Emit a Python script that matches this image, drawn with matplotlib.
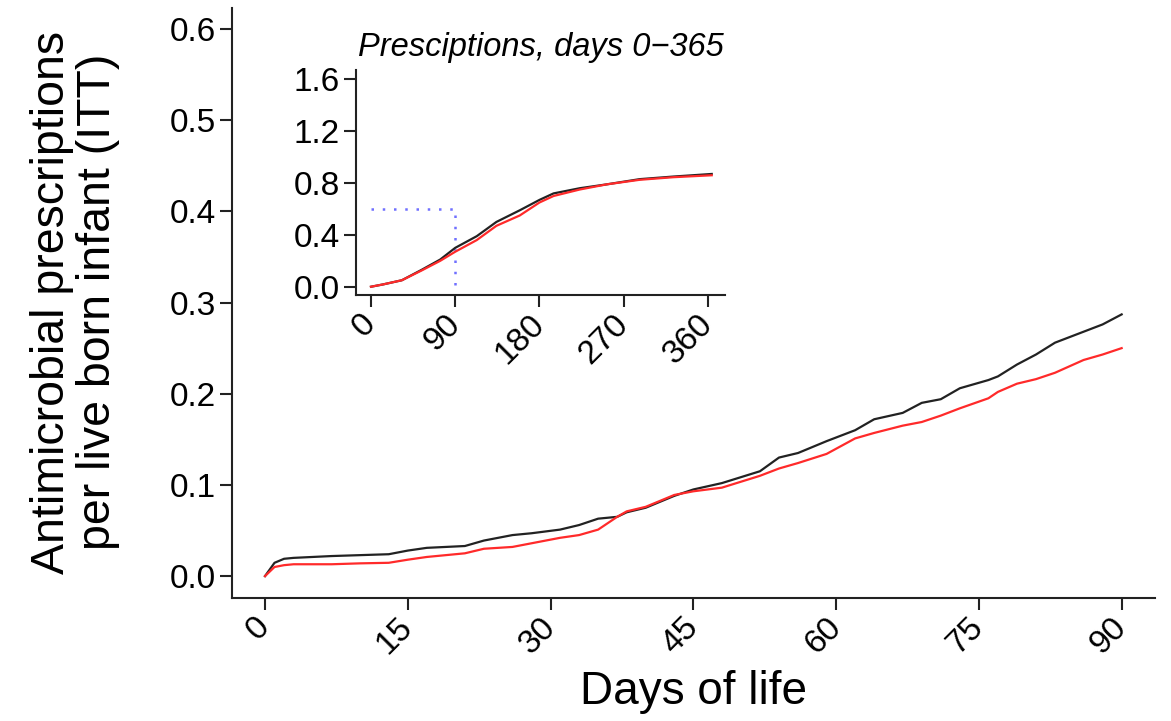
import matplotlib
matplotlib.use("Agg")
import matplotlib.pyplot as plt

plt.rcParams['font.family'] = ['Liberation Sans', 'DejaVu Sans']

# main panel, days 0-90
days = [0, 1, 2, 3, 5, 7, 10, 13, 15, 17, 19, 21, 23, 26, 28, 31, 33, 35, 37, 38,
        40, 43, 45, 48, 52, 54, 56, 59, 62, 64, 67, 69, 71, 73, 76, 77, 79, 81, 83,
        86, 88, 90]
black = [0.0, 0.0146, 0.019, 0.020, 0.021, 0.022, 0.023, 0.024, 0.028, 0.031,
         0.032, 0.033, 0.039, 0.045, 0.047, 0.051, 0.056, 0.063, 0.065, 0.070,
         0.075, 0.088, 0.095, 0.102, 0.115, 0.130, 0.135, 0.148, 0.160, 0.172,
         0.179, 0.190, 0.194, 0.206, 0.215, 0.219, 0.232, 0.243, 0.256, 0.268,
         0.276, 0.287]
red = [0.0, 0.010, 0.012, 0.013, 0.013, 0.013, 0.014, 0.0146, 0.018, 0.021,
       0.023, 0.025, 0.030, 0.032, 0.036, 0.042, 0.045, 0.051, 0.065, 0.071,
       0.076, 0.089, 0.093, 0.097, 0.110, 0.118, 0.124, 0.134, 0.151, 0.157,
       0.165, 0.169, 0.176, 0.184, 0.195, 0.202, 0.211, 0.216, 0.223, 0.237,
       0.243, 0.250]

# inset, days 0-365
days_in = [0, 13, 33, 54, 74, 90, 113, 134, 159, 180, 195, 223, 252, 287, 323, 364]
black_in = [0.0, 0.018, 0.05, 0.13, 0.21, 0.30, 0.39, 0.50, 0.59, 0.67, 0.72,
            0.76, 0.79, 0.83, 0.85, 0.87]
red_in = [0.0, 0.018, 0.05, 0.125, 0.20, 0.27, 0.36, 0.47, 0.55, 0.65, 0.70,
          0.75, 0.79, 0.825, 0.845, 0.86]

main_xticks = [0, 15, 30, 45, 60, 75, 90]
main_yticks = [0.0, 0.1, 0.2, 0.3, 0.4, 0.5, 0.6]
in_xticks = [0, 90, 180, 270, 360]
in_yticks = [0.0, 0.4, 0.8, 1.2, 1.6]
box_x, box_y = 90, 0.6


def style(ax, xticks, yticks, yfmt):
    for s in ['top', 'right']:
        ax.spines[s].set_visible(False)
    for s in ['left', 'bottom']:
        ax.spines[s].set_linewidth(1.5)
        ax.spines[s].set_color('#222222')
    ax.tick_params(width=1.5, length=8.5, labelsize=24, color='#222222', pad=3)
    ax.tick_params(axis='x', pad=9)
    ax.set_xticks(xticks)
    ax.set_yticks(yticks)
    ax.set_yticklabels([yfmt % v for v in yticks])
    ax.set_xticklabels([str(v) for v in xticks], rotation=45, ha='right',
                       va='center', rotation_mode='anchor')


fig = plt.figure(figsize=(11.71, 7.21), dpi=100)
ax = fig.add_axes([0.1981, 0.1706, 0.9863 - 0.1981, 0.9889 - 0.1706])
ax.plot(days, black, color='#222222', lw=1.6)
ax.plot(days, red, color='#ff2a2a', lw=1.6)
ax.set_xlim(-3.47, 93.5)
ax.set_ylim(-0.024, 0.623)
style(ax, main_xticks, main_yticks, '%.1f')

fig.text(75 / 1171, 1 - 302 / 721,
         'Antimicrobial prescriptions\nper live born infant (ITT)',
         rotation=90, ha='center', va='center', fontsize=33.5, linespacing=1.05)
fig.text(693 / 1171, 1 - 692 / 721, 'Days of life', ha='center', va='center',
         fontsize=33)

axi = fig.add_axes([0.304, 0.5908, 0.619 - 0.304, 0.9029 - 0.5908])
axi.plot([0, box_x, box_x], [box_y, box_y, 0], color='#7070ff', lw=1.8,
         linestyle=(0, (1, 3.5)))
axi.plot(days_in, black_in, color='#222222', lw=1.6)
axi.plot(days_in, red_in, color='#ff2a2a', lw=1.6)
axi.set_xlim(-16, 378)
axi.set_ylim(-0.064, 1.672)
style(axi, in_xticks, in_yticks, '%.1f')
axi.set_title('Presciptions, days 0\u2212365', fontsize=23.5, style='italic',
              pad=10)

fig.savefig('out.png', dpi=100)
